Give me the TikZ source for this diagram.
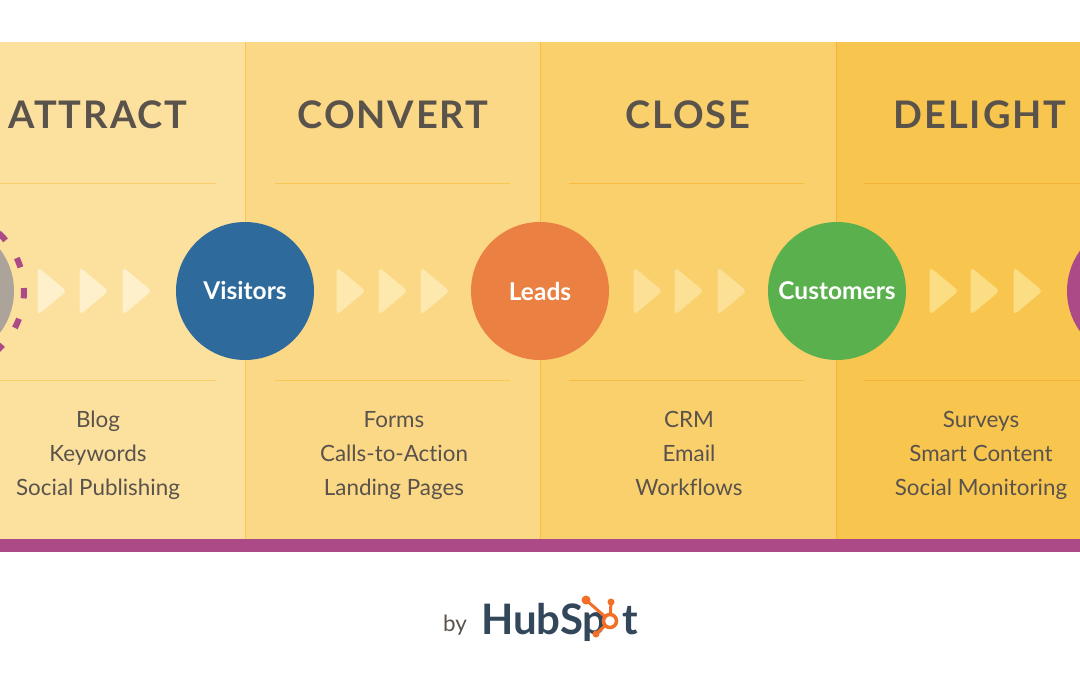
\documentclass[tikz,border=0pt]{standalone}
\usepackage{fontspec}
\setmainfont{Lato}[Ligatures=NoCommon]
\newfontface\titlefont{Lato Bold}[LetterSpace=5]
\usetikzlibrary{shapes.geometric}
\definecolor{bandA}{HTML}{FCE09E}
\definecolor{bandB}{HTML}{FBD885}
\definecolor{bandC}{HTML}{F9D06C}
\definecolor{bandD}{HTML}{F8C54F}
\definecolor{edgeB}{HTML}{FAC654}
\definecolor{edgeC}{HTML}{F8BC42}
\definecolor{edgeD}{HTML}{F6B238}
\definecolor{chevA}{HTML}{FEF0CB}
\definecolor{chevB}{HTML}{FDE8AE}
\definecolor{chevC}{HTML}{FCE096}
\definecolor{chevD}{HTML}{FBDD84}
\definecolor{ink}{HTML}{5A534C}
\definecolor{plum}{HTML}{AC4A88}
\definecolor{stone}{HTML}{ACA49B}
\definecolor{visitblue}{HTML}{2E6A9B}
\definecolor{leadorange}{HTML}{EA8042}
\definecolor{custgreen}{HTML}{5AB04C}
\definecolor{hubnavy}{HTML}{33475B}
\definecolor{huborange}{HTML}{F26F28}

\begin{document}
\begin{tikzpicture}[x=1pt,y=-1pt]
\tikzstyle{divider}=[line width=1pt];
\tikzstyle{stage}=[circle,minimum size=138pt,inner sep=0pt,text=white,font=\fontsize{24.5}{24.5}\selectfont\bfseries];
\tikzstyle{chev}=[isosceles triangle,isosceles triangle apex angle=90,isosceles triangle stretches,minimum height=29pt,minimum width=48pt,inner sep=0pt,rounded corners=4pt];
\tikzstyle{title}=[text=ink,font=\fontsize{38}{38}\titlefont];
\tikzstyle{tool}=[text=ink,text height=16pt,text depth=5pt,inner sep=0pt,font=\fontsize{22.4}{22.4}\selectfont];
\tikzstyle{logo}=[anchor=base west,inner sep=0pt,text=hubnavy,font=\fontsize{42}{42}\selectfont\bfseries];
\tikzstyle{spoke}=[huborange,line width=3pt];

\clip (0,0) rectangle (1080,675);
\fill [white] (0,0) rectangle (1080,675);

\fill [bandA] (0,42) rectangle (245,539);
\fill [bandB] (245,42) rectangle (540,539);
\fill [bandC] (540,42) rectangle (836,539);
\fill [bandD] (836,42) rectangle (1080,539);
\fill [plum] (0,539) rectangle (1080,552);

\draw [divider,color=edgeB] (245,42) -- (245,539);
\draw [divider,color=edgeC] (540,42) -- (540,539);
\draw [divider,color=edgeD] (836,42) -- (836,539);

\draw [divider,color=bandC] (0,183) -- (216,183);
\draw [divider,color=bandC] (0,380) -- (216,380);
\draw [divider,color=edgeB] (275,183) -- (510,183);
\draw [divider,color=edgeB] (275,380) -- (510,380);
\draw [divider,color=edgeC] (569,183) -- (804,183);
\draw [divider,color=edgeC] (569,380) -- (804,380);
\draw [divider,color=edgeD] (864,183) -- (1080,183);
\draw [divider,color=edgeD] (864,380) -- (1080,380);

\node [title] (attract) at (98,114.5) {ATTRACT};
\node [title] (convert) at (393,114.5) {CONVERT};
\node [title] (close) at (688,114.5) {CLOSE};
\node [title] (delight) at (980,114.5) {DELIGHT};

\node [stage,fill=stone] (strangers) at (-55,291) {};
\node [circle,minimum size=158pt,inner sep=0pt,draw=plum,line width=6pt,dash pattern=on 10pt off 21pt,dash phase=7pt] (ring) at (-55,291) {};
\node [stage,fill=visitblue] (visitors) at (245,291) {Visitors};
\node [stage,fill=leadorange] (leads) at (540,291) {Leads};
\node [stage,fill=custgreen] (customers) at (837,291) {Customers};
\node [stage,fill=plum] (promoters) at (1136,291) {};

\node [chev,fill=chevA] (a1) at (49,291) {};
\node [chev,fill=chevA] (a2) at (91,291) {};
\node [chev,fill=chevA] (a3) at (134,291) {};
\node [chev,fill=chevB] (b1) at (348,291) {};
\node [chev,fill=chevB] (b2) at (390,291) {};
\node [chev,fill=chevB] (b3) at (432,291) {};
\node [chev,fill=chevC] (c1) at (645,291) {};
\node [chev,fill=chevC] (c2) at (686,291) {};
\node [chev,fill=chevC] (c3) at (729,291) {};
\node [chev,fill=chevD] (d1) at (941,291) {};
\node [chev,fill=chevD] (d2) at (982,291) {};
\node [chev,fill=chevD] (d3) at (1025,291) {};

\node [tool] (blog) at (98,422) {Blog};
\node [tool] (keywords) at (98,456) {Keywords};
\node [tool] (publishing) at (98,490) {Social Publishing};
\node [tool] (forms) at (394,422) {Forms};
\node [tool] (calls) at (394,456) {Calls-to-Action};
\node [tool] (landing) at (394,490) {Landing Pages};
\node [tool] (crm) at (689,422) {CRM};
\node [tool] (email) at (689,456) {Email};
\node [tool] (workflows) at (689,490) {Workflows};
\node [tool] (surveys) at (981,422) {Surveys};
\node [tool] (smart) at (981,456) {Smart Content};
\node [tool] (monitoring) at (981,490) {Social Monitoring};

\node [tool] (by) at (455,626) {by};
\node [logo] (hubspot) at (481,634) {HubSp};
\node [logo] (hubt) at (622,634) {t};
\coordinate (hubhole) at (610,621);
\coordinate (hubleft) at (586,600);
\coordinate (hubtop) at (611,602);
\coordinate (hubfoot) at (596,634);
\draw [spoke] (hubleft) -- (hubhole);
\draw [spoke] (hubtop) -- (hubhole);
\draw [spoke] (hubfoot) -- (hubhole);
\fill [white] (hubhole) circle (6pt);
\draw [huborange,line width=3.5pt] (hubhole) circle (6.5pt);
\fill [huborange] (hubleft) circle (4.5pt);
\fill [huborange] (hubtop) circle (3.5pt);
\fill [huborange] (hubfoot) circle (3.5pt);
\end{tikzpicture}
\end{document}
